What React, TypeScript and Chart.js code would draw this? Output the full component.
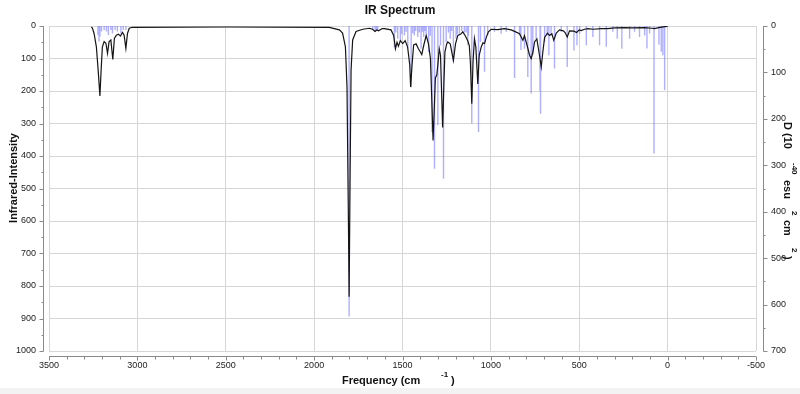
import React, { useEffect, useRef } from 'react';
import { Chart, registerables } from 'chart.js';

Chart.register(...registerables);

// ---- stick spectrum (frequency cm-1, intensity) ----
const stickFreq = [
  3223, 3217, 3212, 3203, 3188, 3175, 3164, 3150, 3141, 3126, 3113, 3093, 3080, 3065,
  1802,
  1668, 1655, 1648, 1640,
  1546, 1538, 1527, 1512, 1505, 1489, 1480, 1470, 1451, 1442, 1433, 1425, 1414, 1405, 1395, 1388,
  1380, 1372, 1366, 1352, 1343, 1333, 1319, 1300, 1285, 1268, 1253, 1240, 1230, 1222, 1212, 1197,
  1190, 1178, 1165, 1150, 1140, 1131, 1127, 1108, 1070, 1059, 1036, 1018, 980, 942, 913, 866, 838,
  830, 810, 791, 772, 763, 744, 722, 719, 696, 681, 672, 659, 640, 602, 568, 530, 513, 498, 460,
  423, 385, 347, 310, 285, 259, 215, 187, 159, 130, 117, 102, 77, 49, 36, 27, 17,
];
const stickInt = [
  28, 48, 33, 17, 12, 17, 28, 12, 23, 12, 17, 23, 12, 12,
  894,
  10, 18, 15, 12,
  65, 20, 39, 49, 25, 29, 18, 65, 188, 22, 29, 15, 34, 20, 70, 18,
  34, 15, 24, 80, 30, 326, 439, 305, 60, 470, 49, 20, 39, 15, 111, 39,
  25, 24, 15, 20, 20, 59, 30, 300, 326, 49, 141, 29, 18, 24, 18, 160, 29,
  74, 70, 157, 208, 90, 39, 200, 270, 49, 29, 90, 29, 131, 18, 126, 75, 59, 24, 59,
  34, 59, 64, 18, 39, 70, 39, 18, 34, 29, 69, 23, 392, 58, 79, 90, 197,
];

// ---- broadened spectrum (frequency cm-1, intensity) ----
const curveFreq = [
  3260, 3254, 3245, 3232, 3222, 3212, 3205, 3198, 3188, 3178, 3169, 3160, 3150, 3139, 3130, 3119,
  3107, 3096, 3084, 3075, 3065, 3056, 3046, 3028, 2500, 1914, 1857, 1839, 1823, 1814, 1806, 1802,
  1797, 1791, 1782, 1763, 1725, 1687, 1670, 1655, 1645, 1635, 1615, 1603, 1565, 1550, 1540, 1531,
  1523, 1512, 1499, 1485, 1471, 1459, 1454, 1446, 1437, 1423, 1410, 1399, 1391, 1380, 1366, 1353,
  1342, 1335, 1327, 1320, 1314, 1306, 1300, 1292, 1285, 1279, 1273, 1267, 1260, 1250, 1244, 1230,
  1212, 1200, 1187, 1170, 1159, 1145, 1131, 1122, 1116, 1108, 1101, 1093, 1085, 1074, 1066, 1055,
  1045, 1036, 1026, 1014, 998, 961, 923, 885, 860, 838, 819, 810, 795, 781, 772, 762, 753, 740,
  725, 715, 706, 696, 680, 668, 655, 644, 630, 612, 590, 580, 568, 555, 530, 515, 500, 489, 470,
  451, 420, 375, 340, 300, 243, 200, 130, 90, 74, 50, 17, 0,
];
const curveInt = [
  3, 7, 23, 64, 135, 215, 135, 64, 48, 53, 84, 48, 43, 103, 38, 28,
  25, 31, 20, 28, 69, 23, 7, 4, 3, 4, 12, 22, 64, 187, 597, 833,
  494, 135, 43, 17, 10, 7, 10, 17, 12, 15, 8, 8, 12, 29, 70, 50,
  62, 45, 54, 45, 65, 120, 188, 120, 58, 55, 70, 80, 88, 60, 29, 55,
  100, 215, 352, 250, 160, 150, 120, 70, 90, 200, 312, 200, 80, 55, 49, 55,
  106, 55, 29, 25, 18, 30, 45, 60, 111, 239, 111, 39, 65, 178, 90, 65,
  52, 54, 35, 18, 10, 11, 8, 12, 18, 24, 44, 30, 60, 90, 100, 80, 49, 40,
  90, 126, 80, 35, 22, 29, 24, 44, 22, 12, 15, 20, 34, 15, 16, 20, 12, 14, 10,
  8, 10, 8, 8, 6, 5, 6, 5, 7, 8, 5, 2, 1,
];

// ---- axes ----
const xMin = -500;
const xMax = 3500;
const xMajorStep = 500;
const xMinorStep = 100;
const yMax = 1000;
const yMajorStep = 100;
const yMinorStep = 50;
const y2Max = 700;

const FONT = "'Liberation Sans', Arial, sans-serif";

const offsetAxesPlugin = {
  id: 'offsetAxes',
  afterDraw(chart: any) {
    const { ctx, chartArea: a, scales } = chart;
    const xs = scales.x;
    const yl = scales.y;
    const yr = scales.y2;
    ctx.save();
    ctx.strokeStyle = '#8a8a8a';
    ctx.lineWidth = 1;
    ctx.beginPath();
    // left axis
    const lx = Math.round(a.left - 6) + 0.5;
    ctx.moveTo(lx, yl.getPixelForValue(0));
    ctx.lineTo(lx, yl.getPixelForValue(yMax) + 0.5);
    yl.ticks.forEach((t: any) => {
      const y = Math.round(yl.getPixelForValue(t.value)) + 0.5;
      const len = t.value % yMajorStep === 0 ? 4 : 2;
      ctx.moveTo(lx, y);
      ctx.lineTo(lx - len, y);
    });
    // right axis
    const rx = Math.round(a.right + 7) + 0.5;
    ctx.moveTo(rx, yr.getPixelForValue(0));
    ctx.lineTo(rx, yr.getPixelForValue(y2Max) + 0.5);
    yr.ticks.forEach((t: any) => {
      const y = Math.round(yr.getPixelForValue(t.value)) + 0.5;
      const len = t.value % 100 === 0 ? 4 : 2;
      ctx.moveTo(rx, y);
      ctx.lineTo(rx + len, y);
    });
    // bottom axis
    const by = Math.round(a.bottom + 5) + 0.5;
    ctx.moveTo(xs.getPixelForValue(xMax), by);
    ctx.lineTo(xs.getPixelForValue(xMin), by);
    xs.ticks.forEach((t: any) => {
      const x = Math.round(xs.getPixelForValue(t.value)) + 0.5;
      const len = t.value % xMajorStep === 0 ? 4 : 3;
      ctx.moveTo(x, by);
      ctx.lineTo(x, by + len);
    });
    ctx.stroke();

    // axis titles
    ctx.fillStyle = '#111';
    ctx.font = `bold 11px ${FONT}`;
    ctx.textBaseline = 'middle';
    // bottom
    ctx.textAlign = 'left';
    ctx.fillText('Frequency (cm', 342, 381);
    ctx.font = `bold 8px ${FONT}`;
    ctx.fillText('-1', 441, 375);
    ctx.font = `bold 11px ${FONT}`;
    ctx.fillText(')', 451, 381);
    // left
    ctx.save();
    ctx.translate(14, 178);
    ctx.rotate(-Math.PI / 2);
    ctx.textAlign = 'center';
    ctx.fillText('Infrared-Intensity', 0, 0);
    ctx.restore();
    // right
    ctx.save();
    ctx.translate(787, 0);
    ctx.rotate(Math.PI / 2);
    ctx.textAlign = 'left';
    ctx.font = `bold 11px ${FONT}`;
    ctx.fillText('D (10', 122, 0);
    ctx.font = `bold 8px ${FONT}`;
    ctx.fillText('-40', 163, -7);
    ctx.font = `bold 11px ${FONT}`;
    ctx.fillText('esu', 180, 0);
    ctx.font = `bold 8px ${FONT}`;
    ctx.fillText('2', 211, -7);
    ctx.font = `bold 11px ${FONT}`;
    ctx.fillText('cm', 220, 0);
    ctx.font = `bold 8px ${FONT}`;
    ctx.fillText('2', 248, -7);
    ctx.font = `bold 11px ${FONT}`;
    ctx.fillText(')', 256, 0);
    ctx.restore();
    ctx.restore();
  },
};

export default function App() {
  const ref = useRef<HTMLCanvasElement | null>(null);

  useEffect(() => {
    document.body.style.margin = '0';
    const canvas = ref.current;
    if (!canvas) return;

    const stickData: any[] = [];
    stickFreq.forEach((f, i) => {
      stickData.push({ x: f, y: 0 });
      stickData.push({ x: f, y: stickInt[i] });
      stickData.push({ x: f, y: null });
    });
    const curveData = curveFreq.map((f, i) => ({ x: f, y: curveInt[i] }));

    const chart = new Chart(canvas, {
      type: 'line',
      data: {
        datasets: [
          {
            label: 'Broadened',
            data: curveData,
            borderColor: '#151515',
            borderWidth: 1.2,
            pointRadius: 0,
            tension: 0,
            order: 0,
            yAxisID: 'y',
          },
          {
            label: 'Sticks',
            data: stickData,
            borderColor: 'rgba(110,110,255,0.55)',
            borderWidth: 1.4,
            pointRadius: 0,
            spanGaps: false,
            order: 1,
            yAxisID: 'y',
          },
        ],
      },
      options: {
        responsive: false,
        animation: false,
        events: [],
        layout: { padding: 0 },
        plugins: {
          legend: { display: false },
          tooltip: { enabled: false },
          title: {
            display: true,
            text: 'IR Spectrum',
            color: '#111',
            font: { family: FONT, size: 12, weight: 'bold' },
            padding: { top: 3, bottom: 8.6 },
          },
        },
        scales: {
          x: {
            type: 'linear',
            reverse: true,
            min: xMin,
            max: xMax,
            afterFit: (s: any) => { s.height = 37; },
            ticks: {
              stepSize: xMinorStep,
              autoSkip: false,
              maxRotation: 0,
              padding: 9,
              color: '#222',
              font: { family: FONT, size: 9 },
              callback: (v: any) => (Number(v) % xMajorStep === 0 ? String(v) : ''),
            },
            grid: {
              drawTicks: false,
              color: (c: any) => (c.tick && c.tick.value % xMajorStep === 0 ? '#d6d6d6' : 'rgba(0,0,0,0)'),
            },
            border: { display: false },
          },
          y: {
            type: 'linear',
            position: 'left',
            reverse: true,
            min: 0,
            max: yMax,
            afterFit: (s: any) => { s.width = 49; },
            ticks: {
              stepSize: yMinorStep,
              autoSkip: false,
              padding: 13,
              color: '#222',
              font: { family: FONT, size: 9 },
              callback: (v: any) => (Number(v) % yMajorStep === 0 ? String(v) : ''),
            },
            grid: {
              drawTicks: false,
              color: (c: any) => (c.tick && c.tick.value % yMajorStep === 0 ? '#d6d6d6' : 'rgba(0,0,0,0)'),
            },
            border: { display: false },
          },
          y2: {
            type: 'linear',
            position: 'right',
            reverse: true,
            min: 0,
            max: y2Max,
            afterFit: (s: any) => { s.width = 44; },
            ticks: {
              stepSize: yMinorStep,
              autoSkip: false,
              padding: 15,
              color: '#222',
              font: { family: FONT, size: 9 },
              callback: (v: any) => (Number(v) % 100 === 0 ? String(v) : ''),
            },
            grid: { display: false, drawTicks: false },
            border: { display: false },
          },
        },
      },
      plugins: [offsetAxesPlugin],
    });

    return () => chart.destroy();
  }, []);

  return (
    <div style={{ width: 800, height: 394, background: '#f3f3f3' }}>
      <canvas ref={ref} width={800} height={388} style={{ display: 'block', background: '#fff' }} />
    </div>
  );
}
